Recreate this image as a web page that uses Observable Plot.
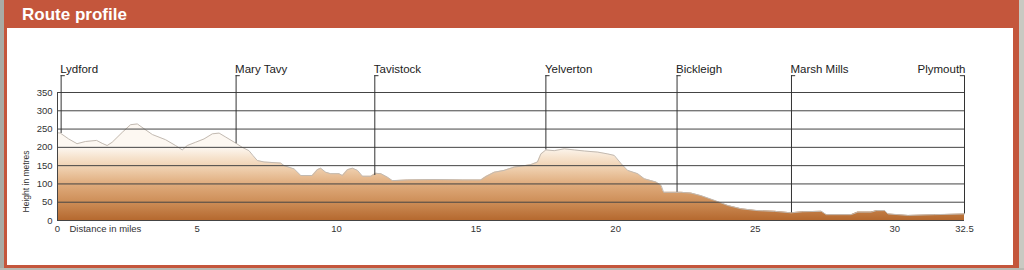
<!DOCTYPE html>
<html><head><meta charset="utf-8">
<script src="https://cdn.jsdelivr.net/npm/d3@7"></script>
<script src="https://cdn.jsdelivr.net/npm/@observablehq/plot@0.6"></script>
<style>
html,body{margin:0;padding:0;}
body{width:1024px;height:270px;overflow:hidden;position:relative;background:#c4563c;font-family:"Liberation Sans",Arial,sans-serif;}
#gl{position:absolute;left:0;top:0;width:4px;height:270px;background:#a9aba5;}
#gr{position:absolute;left:1019px;top:0;width:5px;height:270px;background:#c9c9c2;}
#gb{position:absolute;left:0;top:268px;width:1024px;height:2px;background:#b9bab3;}
#title{position:absolute;left:22px;top:7px;color:#fff;font-weight:bold;font-size:17px;line-height:16.5px;}
#panel{position:absolute;left:7px;top:28px;width:1006px;height:237px;background:#fff;}
#chart{position:absolute;left:0;top:28px;}
</style>
</head><body>
<div id="gl"></div><div id="gr"></div><div id="gb"></div>
<div id="title">Route profile</div>
<div id="panel"></div>
<div id="chart"></div>
<script>
// Elevation profile (distance in miles, height in metres)
const miles = [0,0.1,0.4,0.7,1.0,1.4,1.6,1.78,1.96,2.32,2.62,2.86,3.1,3.4,3.87,4.23,4.47,4.65,4.95,5.25,5.55,5.79,6.03,6.38,6.62,6.86,7.0,7.16,7.4,8.0,8.12,8.48,8.72,9.13,9.31,9.43,9.61,9.79,10.09,10.21,10.39,10.57,10.75,10.93,11.23,11.4,11.59,11.83,12.0,12.54,13.5,14.5,15.17,15.35,15.65,16.0,16.37,16.73,16.97,17.2,17.32,17.5,17.8,18.16,18.52,18.88,19.36,19.72,19.95,20.2,20.43,20.79,21.03,21.45,21.63,21.72,22.35,22.7,23.06,23.54,24.02,24.5,25.1,25.7,26.29,26.7,27.37,27.55,28.44,28.68,29.16,29.34,29.64,29.76,30.48,31.43,32.5];
const heights = [240,239,223,210,216,219,211,205,214,241,262,264,251,235,221,205,193,205,214,223,237,239,228,212,200,191,178,164,160,157,150,141,123,123,139,143,132,128,128,123,139,143,137,121,121,129,128,118,109,111,112,111,111,120,132,137,146,150,153,160,182,193,191,196,193,190,187,182,178,155,137,128,114,105,96,77,77,75,68,55,41,32,27,25,21,24,25,16,16,23,23,27,27,18,14,16,18];

// Places along the route
const placeNames = ["Lydford","Mary Tavy","Tavistock","Yelverton","Bickleigh","Marsh Mills","Plymouth"];
const placeMiles = [0.13,6.4,11.37,17.5,22.2,26.3,32.5];
const placeGround = [238,210,123,193,77,21,18];

// Tick labels
const yTicks = [0,50,100,150,200,250,300,350];
const xTicks = [0,5,10,15,20,25,30,32.5];

const profile = miles.map((m,i) => ({mile:m, h:heights[i]}));
const places = placeNames.map((n,i) => ({name:n, mile:placeMiles[i], ground:placeGround[i], end: i === placeNames.length-1}));
const markerTop = 396;
const stub = 0.15;

const chart = Plot.plot({
  width: 1024,
  height: 237,
  marginLeft: 57,
  marginRight: 60,
  marginTop: 64,
  marginBottom: 45,
  x: {domain: [0, 32.5]},
  y: {domain: [0, 350]},
  style: {fontFamily: "'Liberation Sans', Arial, sans-serif", fontSize: "9.5px", color: "#333", background: "transparent", overflow: "visible"},
  marks: [
    Plot.areaY(profile, {x: "mile", y: "h", fill: "url(#earth)"}),
    Plot.line(profile, {x: "mile", y: "h", stroke: "#c2bab2", strokeWidth: 1}),
    Plot.ruleY(yTicks, {stroke: "#444", strokeWidth: 1}),
    Plot.ruleX([0], {stroke: "#444", strokeWidth: 1}),
    Plot.ruleX(places, {x: "mile", y1: "ground", y2: () => markerTop, stroke: "#333", strokeWidth: 1}),
    Plot.ruleY(places, {y: () => markerTop, x1: "mile", x2: d => d.mile + (d.end ? -stub : stub), stroke: "#333", strokeWidth: 1}),
    Plot.text(places.filter(d => !d.end), {x: "mile", y: () => markerTop, text: "name", textAnchor: "start", lineAnchor: "bottom", dx: -1, dy: -3, fontSize: 11.5, fill: "#222"}),
    Plot.text(places.filter(d => d.end), {x: "mile", y: () => markerTop, text: "name", textAnchor: "end", lineAnchor: "bottom", dx: 1, dy: -3, fontSize: 11.5, fill: "#222"}),
    Plot.axisY({ticks: yTicks, tickSize: 0, tickPadding: 5, label: null}),
    Plot.axisX({ticks: xTicks, tickSize: 0, tickPadding: 5, label: null, tickFormat: d => String(d)}),
    Plot.text(["Distance in miles"], {frameAnchor: "bottom-left", textAnchor: "start", lineAnchor: "top", dx: 12, dy: 5, fill: "#333"}),
    Plot.text(["Height in metres"], {frameAnchor: "bottom-left", rotate: -90, textAnchor: "middle", dx: -29, dy: -39, fontSize: 8.5, fill: "#333"})
  ]
});

const ys = chart.scale("y");
const defs = d3.select(chart).insert("defs", ":first-child");
const grad = defs.append("linearGradient")
  .attr("id", "earth").attr("gradientUnits", "userSpaceOnUse")
  .attr("x1", 0).attr("x2", 0)
  .attr("y1", ys.apply(200)).attr("y2", ys.apply(0));
[["0", "#fdf8f2"], ["0.15", "#f6e2cc"], ["0.32", "#edcba8"], ["0.5", "#e0ad7e"], ["0.75", "#cd8e58"], ["1", "#b5692f"]]
  .forEach(([o, c]) => grad.append("stop").attr("offset", o).attr("stop-color", c));

document.getElementById("chart").appendChild(chart);
</script>
</body></html>
